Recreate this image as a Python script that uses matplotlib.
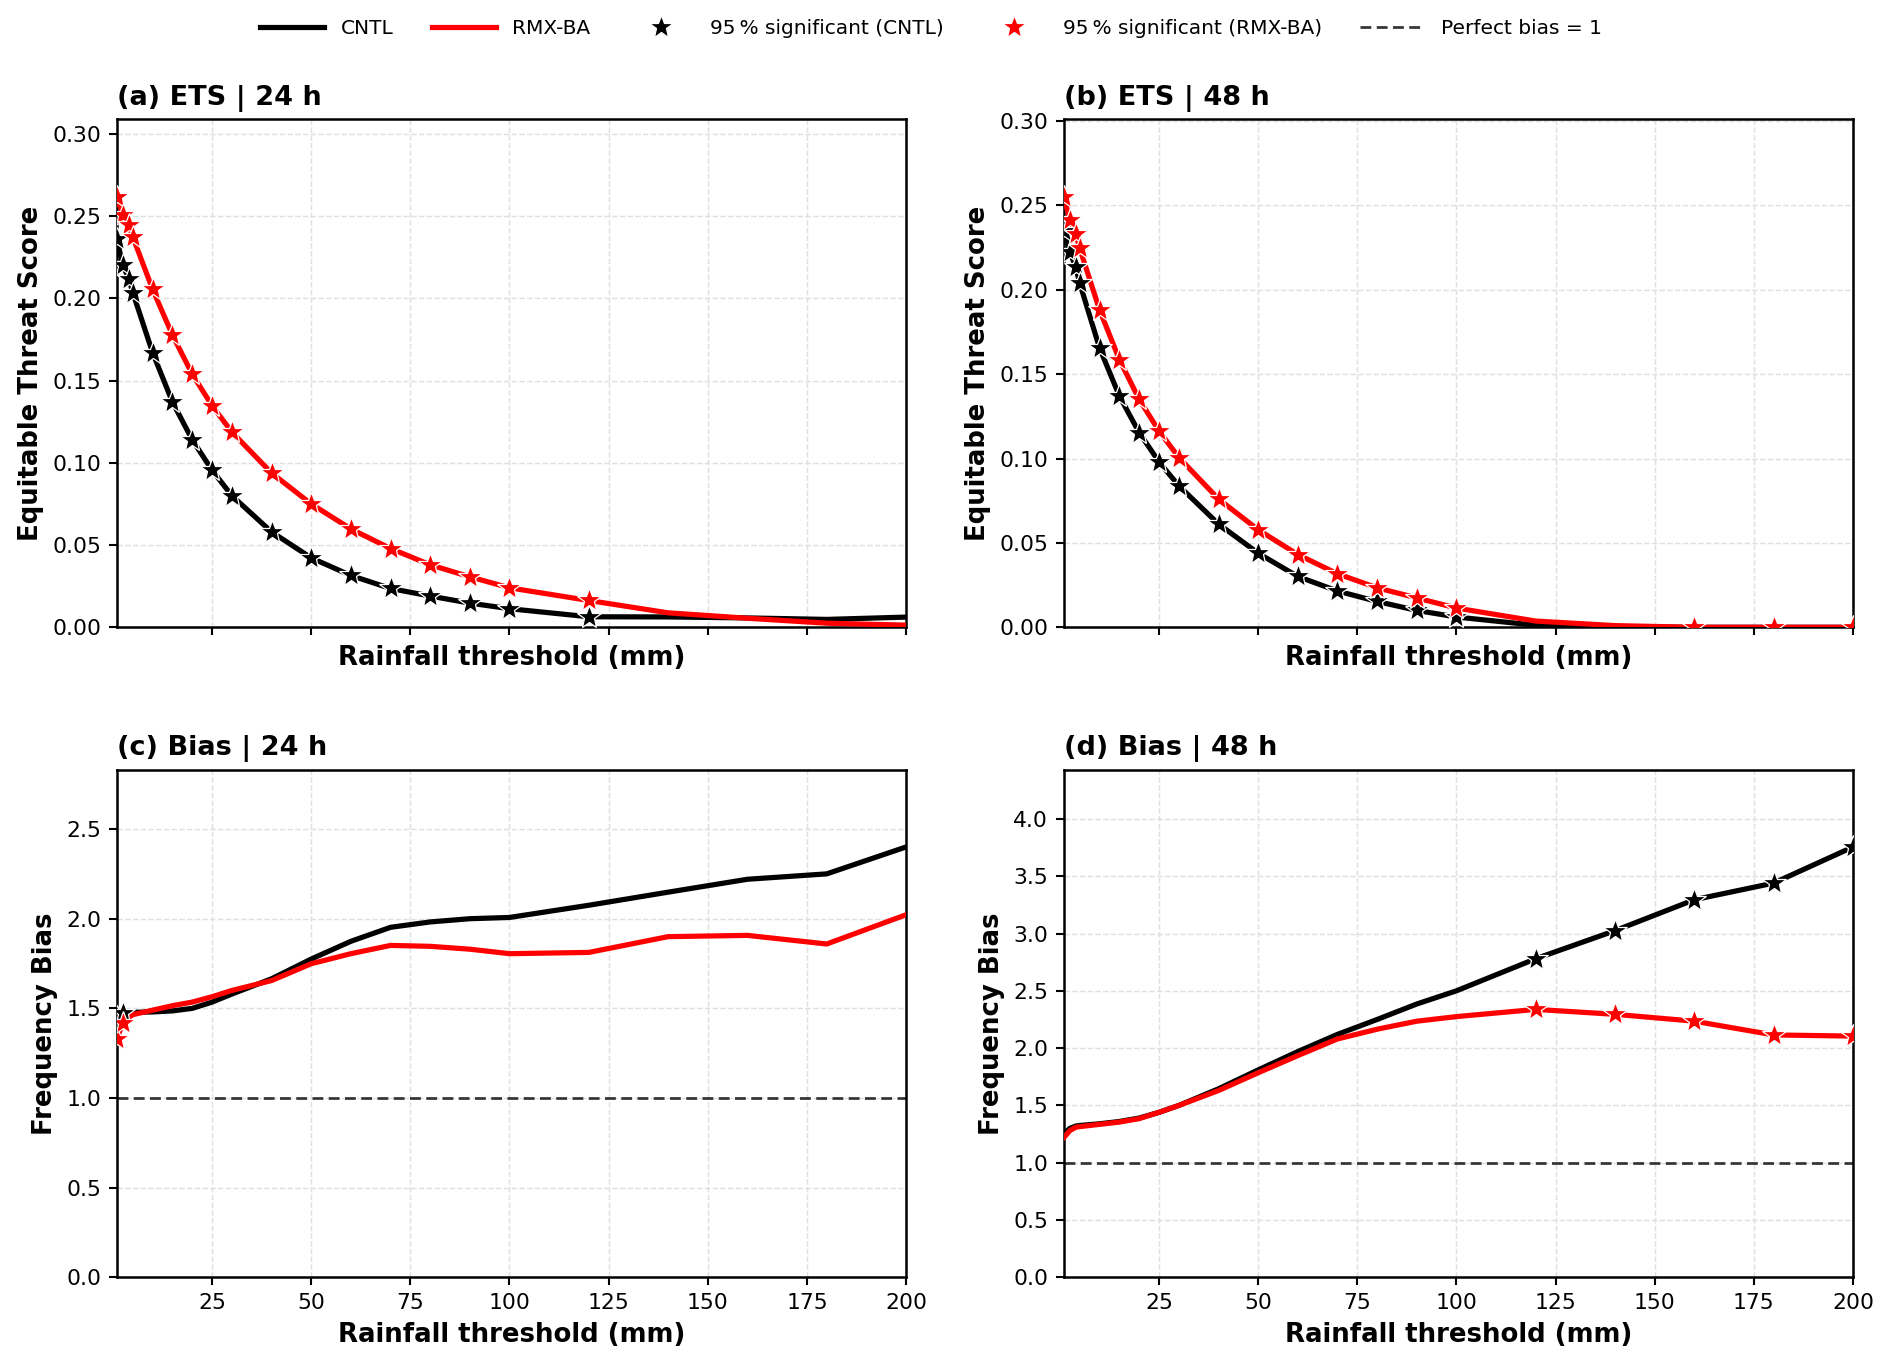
import numpy as np
import matplotlib
matplotlib.use("Agg")
import matplotlib.pyplot as plt
from matplotlib.lines import Line2D
from matplotlib.ticker import MultipleLocator, FormatStrFormatter

thresholds = [1, 2.5, 4, 5, 10, 15, 20, 25, 30, 40, 50, 60, 70, 80, 90, 100, 120, 140, 160, 180, 200]

ets24_cntl = [0.236, 0.220, 0.212, 0.2035, 0.167, 0.137, 0.114, 0.0955, 0.080, 0.058, 0.0422, 0.0315,
              0.0236, 0.0190, 0.0147, 0.0113, 0.0064, 0.0063, 0.0057, 0.0048, 0.0062]
ets24_rmx = [0.2617, 0.2505, 0.2445, 0.2374, 0.2055, 0.1777, 0.1539, 0.1347, 0.1187, 0.0938, 0.0750, 0.0598,
             0.0479, 0.0380, 0.0307, 0.0240, 0.0163, 0.0088, 0.0055, 0.0025, 0.0013]
ets48_cntl = [0.235, 0.2225, 0.2133, 0.2039, 0.1655, 0.137, 0.1153, 0.098, 0.0838, 0.0612, 0.0439, 0.0301,
              0.0215, 0.0153, 0.0100, 0.0061, 0.0012, 0.0003, 0.0, 0.0, 0.0]
ets48_rmx = [0.255, 0.2413, 0.233, 0.2245, 0.1881, 0.1586, 0.135, 0.1163, 0.1006, 0.076, 0.0578, 0.0431,
             0.0317, 0.0234, 0.0174, 0.0114, 0.0037, 0.0010, 0.0, 0.0, 0.0]
bias24_cntl = [1.45, 1.474, 1.476, 1.478, 1.48, 1.486, 1.50, 1.535, 1.58, 1.665, 1.775, 1.874,
               1.952, 1.982, 2.0, 2.007, 2.075, 2.148, 2.22, 2.25, 2.40]
bias24_rmx = [1.33, 1.42, 1.45, 1.465, 1.49, 1.515, 1.535, 1.565, 1.60, 1.655, 1.749, 1.805,
              1.851, 1.846, 1.83, 1.805, 1.812, 1.90, 1.907, 1.859, 2.022]
bias48_cntl = [1.25, 1.30, 1.32, 1.325, 1.34, 1.36, 1.39, 1.44, 1.50, 1.645, 1.81, 1.97,
               2.12, 2.25, 2.385, 2.50, 2.78, 3.025, 3.295, 3.44, 3.755]
bias48_rmx = [1.22, 1.28, 1.31, 1.315, 1.335, 1.355, 1.385, 1.44, 1.50, 1.63, 1.785, 1.935,
              2.08, 2.165, 2.235, 2.275, 2.338, 2.295, 2.235, 2.115, 2.105]

# 95% significance flags (1 = significant)
sig_ets24_cntl = [1]*17 + [0]*4
sig_ets24_rmx = [1]*17 + [0]*4
sig_ets48_cntl = [1]*16 + [0]*5
sig_ets48_rmx = [1]*16 + [0]*2 + [1]*3
sig_bias24_cntl = [1, 1] + [0]*19
sig_bias24_rmx = [1, 1] + [0]*19
sig_bias48_cntl = [0]*16 + [1]*5
sig_bias48_rmx = [0]*16 + [1]*5

titles = ["(a) ETS | 24 h", "(b) ETS | 48 h", "(c) Bias | 24 h", "(d) Bias | 48 h"]

plt.rcParams['font.family'] = ['DejaVu Sans']

fig, axes = plt.subplots(2, 2, figsize=(12.613, 9.1), dpi=150, sharex=True)
fig.subplots_adjust(left=0.0618, right=0.9794, top=0.9125, bottom=0.0642, wspace=0.2, hspace=0.28)

x = np.array(thresholds)
panels = [
    (axes[0, 0], ets24_cntl, ets24_rmx, sig_ets24_cntl, sig_ets24_rmx, "ets"),
    (axes[0, 1], ets48_cntl, ets48_rmx, sig_ets48_cntl, sig_ets48_rmx, "ets"),
    (axes[1, 0], bias24_cntl, bias24_rmx, sig_bias24_cntl, sig_bias24_rmx, "bias"),
    (axes[1, 1], bias48_cntl, bias48_rmx, sig_bias48_cntl, sig_bias48_rmx, "bias"),
]

MS = 12
for (ax, yc, yr, sc, sr, kind), title in zip(panels, titles):
    yc = np.array(yc); yr = np.array(yr)
    sc = np.array(sc, bool); sr = np.array(sr, bool)
    ax.grid(True, linestyle='--', color='#e0e0e0', linewidth=0.7, zorder=0)
    if kind == "bias":
        ax.axhline(1.0, color='#333333', linestyle=(0, (4, 2)), linewidth=1.3, zorder=2)
    ax.plot(x, yc, color='black', lw=2.5, zorder=3)
    ax.plot(x, yr, color='red', lw=2.5, zorder=4)
    ax.plot(x[sc], yc[sc], linestyle='none', marker='*', ms=MS, color='black',
            mec='white', mew=0.6, zorder=5)
    ax.plot(x[sr], yr[sr], linestyle='none', marker='*', ms=MS, color='red',
            mec='white', mew=0.6, zorder=6)
    ax.set_xlim(1, 200)
    top = 1.18 * max(yc.max(), yr.max())
    ax.set_ylim(0, top)
    if kind == "ets":
        ax.yaxis.set_major_locator(MultipleLocator(0.05))
        ax.yaxis.set_major_formatter(FormatStrFormatter('%.2f'))
        ax.set_ylabel("Equitable Threat Score", fontsize=12.5, fontweight='bold')
    else:
        ax.yaxis.set_major_locator(MultipleLocator(0.5))
        ax.yaxis.set_major_formatter(FormatStrFormatter('%.1f'))
        ax.set_ylabel("Frequency Bias", fontsize=12.5, fontweight='bold')
    ax.xaxis.set_major_locator(MultipleLocator(25))
    ax.set_xlabel("Rainfall threshold (mm)", fontsize=12.5, fontweight='bold', labelpad=4.5)
    ax.set_title(title, loc='left', fontsize=13, fontweight='bold', pad=7)
    ax.tick_params(labelsize=10.5, width=1.0, length=4)
    for s in ax.spines.values():
        s.set_linewidth(1.2)

for ax in axes[0]:
    ax.tick_params(labelbottom=False)
    ax.xaxis.label.set_visible(True)

handles = [
    Line2D([], [], color='black', lw=2.5),
    Line2D([], [], color='red', lw=2.5),
    Line2D([], [], color='black', marker='*', linestyle='none', ms=MS, mec='white', mew=0.6),
    Line2D([], [], color='red', marker='*', linestyle='none', ms=MS, mec='white', mew=0.6),
    Line2D([], [], color='#333333', linestyle=(0, (4, 2)), lw=1.3),
]
labels = ["CNTL", "RMX-BA", "95\u2009% significant (CNTL)", "95\u2009% significant (RMX-BA)", "Perfect bias = 1"]
fig.legend(handles, labels, loc='center', bbox_to_anchor=(0.492, 0.979), ncol=5, frameon=False,
           fontsize=9.7, columnspacing=1.9, handlelength=3.2)

fig.savefig("out.png", dpi=150)
